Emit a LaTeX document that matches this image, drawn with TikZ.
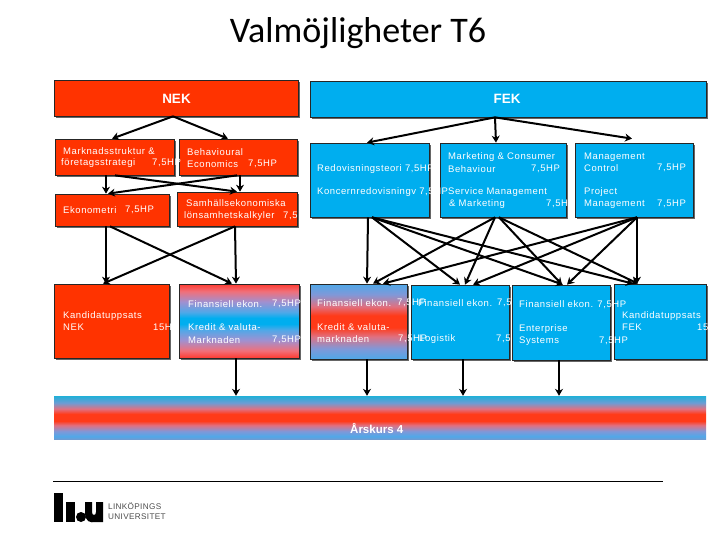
\documentclass[tikz,border=0pt]{standalone}
\usepackage{fontspec}
\setmainfont{Liberation Sans}
\newfontfamily\titlefont{Carlito}
\newfontfamily\boxfont[LetterSpace=6]{Liberation Sans}
\newfontfamily\logofont[LetterSpace=4]{Liberation Sans}
\usetikzlibrary{shadows,arrows.meta}
\definecolor{liured}{HTML}{FF3300}
\definecolor{liublue}{HTML}{00AEEF}
\pgfdeclareverticalshading{rbrshade}{100bp}{rgb(0bp)=(1,.227,.188); rgb(25bp)=(1,.227,.188); rgb(30bp)=(.941,.439,.478); rgb(37bp)=(.627,.565,.816); rgb(44bp)=(.314,.659,.91); rgb(48bp)=(0,.682,.937); rgb(52bp)=(0,.682,.937); rgb(56bp)=(.314,.659,.91); rgb(63bp)=(.627,.565,.816); rgb(70bp)=(.941,.439,.478); rgb(75bp)=(1,.227,.188); rgb(100bp)=(1,.227,.188)}
\pgfdeclareverticalshading{brbshade}{100bp}{rgb(0bp)=(.31,.659,.91); rgb(25bp)=(.31,.659,.91); rgb(32bp)=(.502,.596,.847); rgb(40bp)=(.878,.439,.502); rgb(46bp)=(1,.227,.094); rgb(54bp)=(1,.227,.094); rgb(60bp)=(.878,.439,.502); rgb(68bp)=(.502,.596,.847); rgb(75bp)=(.31,.659,.91); rgb(100bp)=(.31,.659,.91)}
\pgfdeclareverticalshading{barshade}{100bp}{rgb(0bp)=(.424,.612,.831); rgb(25bp)=(.424,.612,.831); rgb(28bp)=(.31,.659,.91); rgb(34bp)=(.502,.596,.847); rgb(41bp)=(.878,.439,.502); rgb(46bp)=(1,.227,.094); rgb(54bp)=(1,.227,.094); rgb(60bp)=(.878,.439,.502); rgb(67bp)=(.424,.612,.831); rgb(75bp)=(.125,.69,.847); rgb(100bp)=(.125,.69,.847)}
\tikzset{
  boxbase/.style={draw=black!85,line width=0.7pt,inner sep=0pt,
    drop shadow={shadow xshift=2pt,shadow yshift=-2pt,fill=black!60,opacity=1}},
  redbox/.style={boxbase,fill=liured},
  bluebox/.style={boxbase,fill=liublue},
  rbrbox/.style={boxbase,shade,shading=rbrshade},
  brbbox/.style={boxbase,shade,shading=brbshade},
  barbox/.style={inner sep=0pt,shade,shading=barshade},
  head/.style={text=white,font=\fontsize{13.5}{15}\selectfont\bfseries},
  lbl/.style={text=white,anchor=west,inner sep=0pt,font=\fontsize{9.5}{11}\selectfont\boxfont},
  arr/.style={draw=black,line width=2pt,-{Stealth[length=7pt,width=8pt]}},
}
\newcommand{\tbox}[7][]{\node[#6,minimum width={(#4-#2)*1pt},minimum height={(#5-#3)*1pt}] (#7) at ({(#2+#4)/2},{(#3+#5)/2}) {#1};}
\newcommand{\con}[6][0]{\draw[arr] ([xshift=#3pt]#2.south) -- ([xshift=#5pt,yshift=#1pt]#4.north);}
\begin{document}
\begin{tikzpicture}[x=1pt,y=-1pt]
\useasboundingbox (0,0) rectangle (720,540);
\node[inner sep=0pt,font=\fontsize{36}{38}\selectfont\titlefont] (title) at (358,33) {Valmöjligheter T6};
% boxes
\tbox{54}{80}{298}{116}{redbox}{nek}
\tbox{310}{81}{706}{117}{bluebox}{fek}
\tbox{55}{139}{174}{175}{redbox}{mark}
\tbox{179}{139}{297}{175}{redbox}{beh}
\tbox{55}{194}{169}{226}{redbox}{eko}
\tbox{177}{192}{297}{226}{redbox}{sam}
\tbox{310}{143}{429}{217}{bluebox}{red}
\tbox{440}{143}{566}{217}{bluebox}{mkt}
\tbox{575}{143}{693}{217}{bluebox}{mgt}
\tbox{54}{284}{169}{358}{redbox}{kn}
\tbox{179}{284}{299}{358}{rbrbox}{fn}
\tbox{310}{284}{407}{359}{brbbox}{bone}
\tbox{411}{285}{509}{359}{bluebox}{btwo}
\tbox{512}{285}{610}{360}{bluebox}{bthree}
\tbox{614}{284}{706}{359}{bluebox}{bfour}
\tbox{54}{396}{706}{439}{barbox}{bar}
% heading texts
\node[head] (nekt) at (176.5,99) {NEK};
\node[head] (fekt) at (507,99) {FEK};
% connectors
\con{nek}{-3}{mark}{-2.5}{}
\con{nek}{-3}{beh}{-10}{}
\con{mark}{-8.5}{eko}{-6}{}
\con{mark}{0.5}{sam}{0}{}
\con{beh}{-1}{eko}{-4}{}
\con{beh}{2}{sam}{3}{}
\con{eko}{-6}{kn}{-5.5}{}
\con{eko}{-2}{fn}{-7}{}
\con{sam}{-2}{kn}{-8.5}{}
\con{sam}{-2}{fn}{-3}{}
\con{fn}{-3}{bar}{-144}{}
\con{fek}{-13}{red}{-2.5}{}
\con{fek}{-13}{mkt}{-7}{}
\con[4]{fek}{-13}{mgt}{-2}{}
\con{red}{-1.5}{bone}{8.5}{}
\con{red}{2.5}{btwo}{0}{}
\con{red}{2.5}{bthree}{2}{}
\con{red}{2.5}{bfour}{-27}{}
\con{mkt}{-8}{bone}{14.5}{}
\con{mkt}{-8}{btwo}{5}{}
\con{mkt}{-4}{bthree}{1}{}
\con{mkt}{-4}{bfour}{-22}{}
\con{mgt}{3}{bone}{24.5}{}
\con{mgt}{3}{btwo}{13}{}
\con{mgt}{3}{bthree}{6}{}
\con{mgt}{3}{bfour}{-23}{}
\con{bone}{8.5}{bar}{-13}{}
\con{btwo}{3}{bar}{83}{}
\con{bthree}{-2}{bar}{179}{}
% NEK texts
\node[lbl] (a1) at (63,151) {Marknadsstruktur  \&};
\node[lbl] (a2) at (61,163) {företagsstrategi};
\node[lbl] (a3) at (152,163) {7,5HP};
\node[lbl] (a4) at (187,152) {Behavioural};
\node[lbl] (a5) at (187,164) {Economics};
\node[lbl] (a6) at (248,164) {7,5HP};
\node[lbl] (a7) at (63,210) {Ekonometri};
\node[lbl] (a8) at (125,210) {7,5HP};
\node[lbl] (a9) at (186,203) {Samhällsekonomiska};
\node[lbl] (a10) at (184,216) {lönsamhetskalkyler};
\node[lbl] (a11) at (283,216) {7,5};
\node[lbl] (a12) at (63,316) {Kandidatuppsats};
\node[lbl] (a13) at (63,327) {NEK};
\node[lbl] (a14) at (153,327) {15H};
\node[lbl] (a15) at (188,304) {Finansiell ekon.};
\node[lbl] (a16) at (272,304) {7,5HP};
\node[lbl] (a17) at (188,327) {Kredit \& valuta-};
\node[lbl] (a18) at (188,340) {Marknaden};
\node[lbl] (a19) at (272,340) {7,5HP};
% FEK upper texts
\node[lbl] (b1) at (317,169) {Redovisningsteori 7,5HP};
\node[lbl] (b2) at (317,192) {Koncernredovisningv 7,5HP};
\node[lbl] (b3) at (448,157) {Marketing \& Consumer};
\node[lbl] (b4) at (448,169) {Behaviour};
\node[lbl] (b5) at (531,169) {7,5HP};
\node[lbl] (b6) at (448,192) {Service Management};
\node[lbl] (b7) at (449,204) {\& Marketing};
\node[lbl] (b8) at (546,204) {7,5H};
\node[lbl] (b9) at (584,157) {Management};
\node[lbl] (b10) at (584,168) {Control};
\node[lbl] (b11) at (657,168) {7,5HP};
\node[lbl] (b12) at (584,192) {Project};
\node[lbl] (b13) at (584,204) {Management};
\node[lbl] (b14) at (657,204) {7,5HP};
% FEK lower texts
\node[lbl] (c1) at (317,303) {Finansiell ekon.};
\node[lbl] (c2) at (397,303) {7,5HP};
\node[lbl] (c3) at (317,327) {Kredit \& valuta-};
\node[lbl] (c4) at (317,339) {marknaden};
\node[lbl] (c5) at (398,339) {7,5HP};
\node[lbl] (c6) at (418,303) {Finansiell ekon.};
\node[lbl] (c7) at (497,303) {7,5};
\node[lbl] (c8) at (419,339) {Logistik};
\node[lbl] (c9) at (496,339) {7,5};
\node[lbl] (c10) at (519,305) {Finansiell ekon. 7,5HP};
\node[lbl] (c11) at (519,329) {Enterprise};
\node[lbl] (c12) at (519,341) {Systems};
\node[lbl] (c13) at (599,341) {7,5HP};
\node[lbl] (c14) at (622,316) {Kandidatuppsats};
\node[lbl] (c15) at (622,327) {FEK};
\node[lbl] (c16) at (697,327) {15};
\node[text=white,anchor=west,inner sep=0pt,font=\fontsize{11.5}{13}\selectfont\bfseries] (ars) at (350,428) {Årskurs 4};
% rule and logo
\draw[black,line width=0.8pt] (53,481) -- (663,481);
\fill[black] (54,493) rectangle (63,522);
\fill[black] (66,502) rectangle (75,522);
\fill[black] (81,517) circle (5);
\fill[black] (85,502) -- (92,502) -- (92,512) .. controls (92,516) and (96,516) .. (96,512) -- (96,502) -- (103,502) -- (103,522) -- (96,522) .. controls (90,523) and (85,522) .. (85,512) -- cycle;
\node[anchor=west,inner sep=0pt,text=black!70,font=\fontsize{8.2}{9}\selectfont\logofont] (lg1) at (108,506) {LINKÖPINGS};
\node[anchor=west,inner sep=0pt,text=black!70,font=\fontsize{8.2}{9}\selectfont\logofont] (lg2) at (108,517) {UNIVERSITET};
\end{tikzpicture}
\end{document}
